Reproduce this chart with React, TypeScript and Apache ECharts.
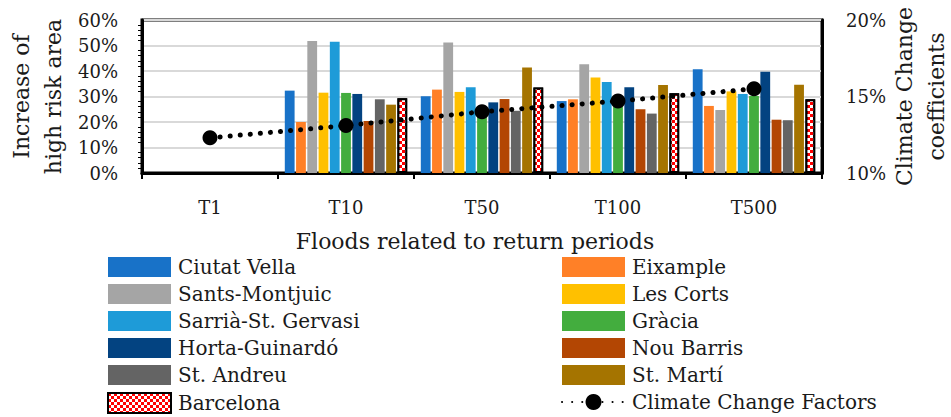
import React, { useEffect, useRef } from "react";
import * as echarts from "echarts";

const categories = ["T1", "T10", "T50", "T100", "T500"];
const districtNames = [
  "Ciutat Vella", "Eixample", "Sants-Montjuic", "Les Corts", "Sarrià-St. Gervasi",
  "Gràcia", "Horta-Guinardó", "Nou Barris", "St. Andreu", "St. Martí", "Barcelona",
];
const lineName = "Climate Change Factors";
const ciutatVella = [null, 32.3, 30.1, 28.2, 40.7];
const eixample = [null, 20.0, 32.7, 28.9, 26.3];
const santsMontjuic = [null, 51.8, 51.2, 42.6, 24.7];
const lesCorts = [null, 31.5, 31.8, 37.5, 32.0];
const sarria = [null, 51.5, 33.6, 35.7, 31.0];
const gracia = [null, 31.4, 24.0, 27.3, 30.2];
const horta = [null, 31.0, 27.7, 33.6, 39.7];
const nouBarris = [null, 20.4, 29.0, 25.0, 20.9];
const stAndreu = [null, 28.9, 24.4, 23.3, 20.7];
const stMarti = [null, 26.8, 41.4, 34.5, 34.6];
const barcelona = [null, 29.3, 33.5, 31.3, 28.9];
const climateFactors = [12.3, 13.1, 14.0, 14.7, 15.5];
const leftTicks = { min: 0, max: 60, interval: 10 };
const rightTicks = { min: 10, max: 20, interval: 5 };

const barValues = [
  ciutatVella, eixample, santsMontjuic, lesCorts, sarria,
  gracia, horta, nouBarris, stAndreu, stMarti, barcelona,
];
const barColors = [
  "#1872c8", "#ff8027", "#a5a5a5", "#ffc000", "#1e9bd8",
  "#43ad3e", "#034381", "#b34603", "#646464", "#a57400", "#ff0000",
];

const FONT = "DejaVu Serif";
const INK = "#1a1a1a";

export default function App() {
  const ref = useRef<HTMLDivElement>(null);
  useEffect(() => {
    const chart = echarts.init(ref.current!, undefined, { renderer: "svg" });
    const series: any[] = barValues.map((vals, i) => {
      const isBcn = i === 10;
      return {
        name: districtNames[i],
        type: "bar",
        data: vals,
        yAxisIndex: 0,
        barGap: "15%",
        barCategoryGap: "10%",
        itemStyle: isBcn
          ? {
              color: "#ff0000",
              borderColor: "#000",
              borderWidth: 2,
              decal: {
                symbol: "rect",
                symbolSize: 1,
                color: "#ffffff",
                dashArrayX: [[3, 3], [0, 3, 3, 0]],
                dashArrayY: [3, 0],
                rotation: 0,
              },
            }
          : { color: barColors[i] },
      };
    });
    series.push({
      name: lineName,
      type: "line",
      yAxisIndex: 1,
      data: climateFactors,
      symbol: "circle",
      symbolSize: 15,
      itemStyle: { color: "#000" },
      lineStyle: { color: "#000", width: 5, type: [0.1, 10], cap: "round" },
      z: 5,
    });
    const tickText = { fontFamily: FONT, fontSize: 18, color: INK };
    const nameText = { fontFamily: FONT, fontSize: 22, color: INK };
    const legendText = { fontFamily: FONT, fontSize: 20, color: INK, lineHeight: 20, padding: [0, 0, 0, 2] };
    const rectItem = (n: string) => ({ name: n, icon: "rect" });
    chart.setOption({
      animation: false,
      textStyle: { fontFamily: FONT },
      grid: {
        left: 142, right: 129, top: 20, bottom: 244,
        show: true, borderColor: "#000", borderWidth: 3,
        containLabel: false,
        outerBoundsMode: "none",
      },
      legend: [
        {
          orient: "vertical", left: 102, top: 252, height: 200,
          itemWidth: 63, itemHeight: 20, itemGap: 7,
          textStyle: legendText,
          data: [0, 2, 4, 6, 8, 10].map((i) => rectItem(districtNames[i])),
        },
        {
          orient: "vertical", left: 556, top: 252, height: 200,
          itemWidth: 63, itemHeight: 20, itemGap: 7,
          textStyle: legendText,
          data: [...[1, 3, 5, 7, 9].map((i) => rectItem(districtNames[i])), { name: lineName }],
        },
      ],
      xAxis: {
        type: "category",
        data: categories,
        name: "Floods related to return periods",
        nameLocation: "middle",
        nameGap: 57,
        nameTextStyle: { ...nameText, padding: [0, 14, 0, 0] },
        axisLine: { lineStyle: { color: "#000", width: 3 } },
        axisTick: { show: true, length: 6, lineStyle: { color: "#000", width: 2 } },
        axisLabel: { ...tickText, margin: 25 },
      },
      yAxis: [
        {
          type: "value",
          ...leftTicks,
          name: "Increase of\nhigh risk area",
          nameLocation: "middle",
          nameRotate: 90,
          nameGap: 73,
          nameMoveOverlap: false,
          nameTextStyle: { ...nameText, lineHeight: 32 },
          axisLine: { show: true, lineStyle: { color: "#000", width: 3 } },
          axisTick: { show: false },
          minorTick: { show: true, splitNumber: 5, length: 4, lineStyle: { color: "#000", width: 1 } },
          axisLabel: { ...tickText, margin: 24, formatter: "{value}%" },
          splitLine: { show: true, lineStyle: { color: "#d9d9d9", width: 2 } },
        },
        {
          type: "value",
          ...rightTicks,
          name: "Climate Change\ncoefficients",
          nameLocation: "middle",
          nameRotate: 90,
          nameGap: 66,
          nameMoveOverlap: false,
          nameTextStyle: { ...nameText, lineHeight: 32 },
          axisLine: { show: true, lineStyle: { color: "#000", width: 3 } },
          axisTick: { show: false },
          axisLabel: { ...tickText, margin: 24, formatter: "{value}%" },
          splitLine: { show: false },
        },
      ],
      series,
    });
    return () => chart.dispose();
  }, []);
  return <div ref={ref} style={{ width: 951, height: 417, position: "absolute", left: 0, top: 0 }} />;
}
